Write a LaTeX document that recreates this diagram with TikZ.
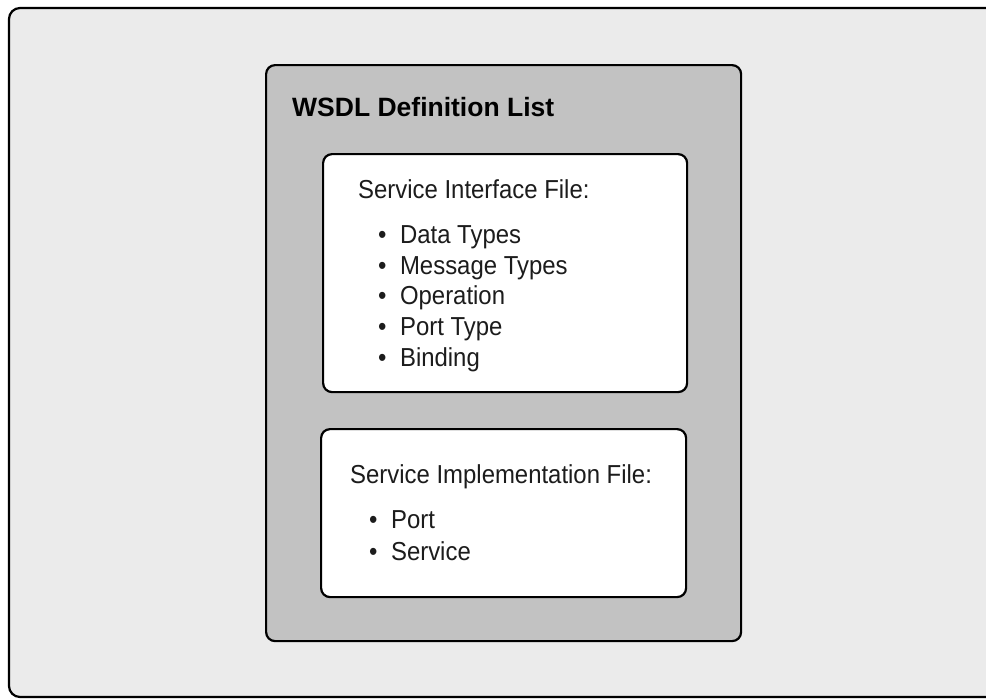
\documentclass[tikz,border=0pt]{standalone}
\usepackage{fontspec}
\setmainfont{Liberation Sans}
\newfontfamily\bodyfont[FakeStretch=0.92]{Liberation Sans}
\definecolor{pagebg}{HTML}{EBEBEB}
\definecolor{listbg}{HTML}{C2C2C2}
\definecolor{inkgray}{HTML}{1C1C1C}
\tikzset{
  framebox/.style={draw=black, line width=2.2pt, rounded corners=9pt},
  panel/.style={framebox, fill=listbg, anchor=north west, inner sep=0pt},
  filebox/.style={framebox, fill=white, anchor=north west, inner sep=0pt},
  title/.style={anchor=base west, inner sep=0pt, font=\fontsize{26.5}{30}\selectfont\bfseries, text=black},
  label/.style={anchor=base west, inner sep=0pt, font=\bodyfont\fontsize{26}{30}\selectfont, text=inkgray},
}
\newcommand{\itembullet}{\textbullet\hspace{13.5pt}}
\begin{document}
\begin{tikzpicture}[x=1pt,y=-1pt]
\useasboundingbox (0,0) rectangle (986,699);
\fill[white] (0,0) rectangle (986,699);
% outer frame, running past the right edge
\begin{scope}
  \clip (0,0) rectangle (986,699);
  \draw[framebox, fill=pagebg, rounded corners=11pt] (9,8) rectangle (1010,697);
\end{scope}
% definition list panel and its two files
\node[panel, minimum width=475pt, minimum height=576pt] (list) at (265,64) {};
\node[title] (listtitle) at (292,116) {WSDL Definition List};
\node[filebox, minimum width=364pt, minimum height=238pt] (iface) at (322,153) {};
\node[filebox, minimum width=365pt, minimum height=168pt] (impl) at (320,428) {};
% service interface file
\node[label] (ifacehead) at (358,198) {Service Interface File:};
\node[label] (i1) at (378,243) {\itembullet Data Types};
\node[label] (i2) at (378,274) {\itembullet Message Types};
\node[label] (i3) at (378,304) {\itembullet Operation};
\node[label] (i4) at (378,335) {\itembullet Port Type};
\node[label] (i5) at (378,366) {\itembullet Binding};
% service implementation file
\node[label] (implhead) at (350,483) {Service Implementation File:};
\node[label] (p1) at (369,528) {\itembullet Port};
\node[label] (p2) at (369,560) {\itembullet Service};
\end{tikzpicture}
\end{document}
